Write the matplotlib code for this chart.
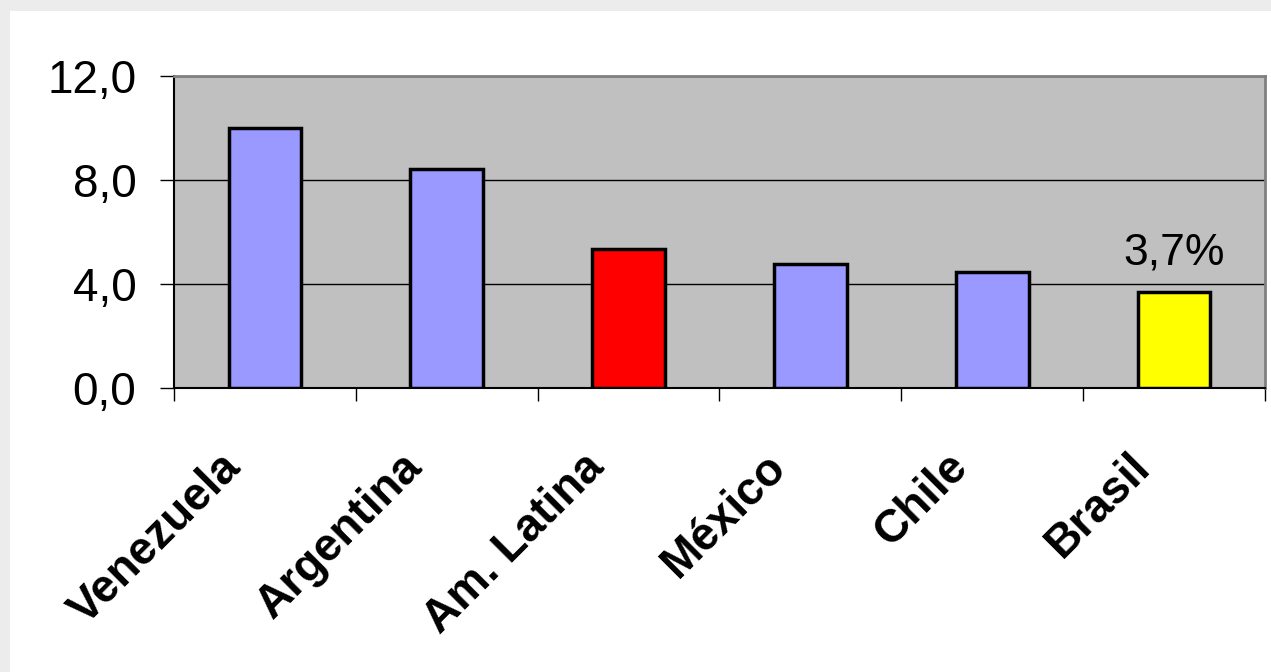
import matplotlib.pyplot as plt
import numpy as np
from matplotlib.patches import Rectangle
from matplotlib.transforms import ScaledTranslation
from matplotlib.ticker import FuncFormatter

plt.rcParams['font.family'] = ['Liberation Sans', 'DejaVu Sans']

# data
categories = ['Venezuela', 'Argentina', 'Am. Latina', 'México', 'Chile', 'Brasil']
values = [10.0, 8.42, 5.35, 4.77, 4.46, 3.7]
colors = ['#9999FF', '#9999FF', '#FF0000', '#9999FF', '#9999FF', '#FFFF00']
y_ticks = [0, 4, 8, 12]

fig = plt.figure(figsize=(12.71, 6.72), dpi=100)
fig.patch.set_facecolor('#ececec')
# white panel over the textured background
fig.patches.append(Rectangle((10 / 1271, 0), 1 - 10 / 1271, 1 - 11 / 672,
                             transform=fig.transFigure, facecolor='white',
                             edgecolor='none', zorder=-5))

ax = fig.add_axes([174 / 1271, 1 - 388 / 672, (1265 - 174) / 1271, (388 - 76) / 672])
ax.set_facecolor('#C0C0C0')

x = np.arange(len(categories))
ax.bar(x, values, width=0.4, color=colors, edgecolor='black', linewidth=2.5, zorder=3)

ax.set_xlim(-0.5, len(categories) - 0.5)
ax.set_ylim(0, 12)

# gridlines
ax.set_yticks(y_ticks)
ax.yaxis.set_major_formatter(FuncFormatter(lambda v, p: f'{v:.1f}'.replace('.', ',')))
ax.grid(axis='y', color='black', linewidth=1, zorder=1)
ax.tick_params(axis='y', length=10, width=1, pad=17, labelsize=33, direction='out')

# category labels at centres, tick marks at boundaries
ax.set_xticks(x)
ax.set_xticklabels(categories, rotation=45, ha='right', va='center',
                   rotation_mode='anchor', fontsize=33, fontweight='bold')
ax.set_xticks(np.arange(len(categories) + 1) - 0.5, minor=True)
ax.tick_params(axis='x', which='major', length=0, pad=52)
ax.tick_params(axis='x', which='minor', length=9, width=1, direction='out')
for lab in ax.get_xticklabels():
    lab.set_transform(lab.get_transform() + ScaledTranslation(-0.31, 0, fig.dpi_scale_trans))

for side in ['left', 'bottom']:
    ax.spines[side].set_color('black')
    ax.spines[side].set_linewidth(1.5)
for side in ['top', 'right']:
    ax.spines[side].set_color('#808080')
    ax.spines[side].set_linewidth(2)

# label on Brasil bar
i = len(categories) - 1
ax.annotate(f'{values[i]:.1f}%'.replace('.', ','), xy=(x[i], values[i]),
            xytext=(0, 20), textcoords='offset points', ha='center',
            va='baseline', fontsize=32, zorder=4)

fig.savefig('out.png', dpi=100, facecolor=fig.get_facecolor())
